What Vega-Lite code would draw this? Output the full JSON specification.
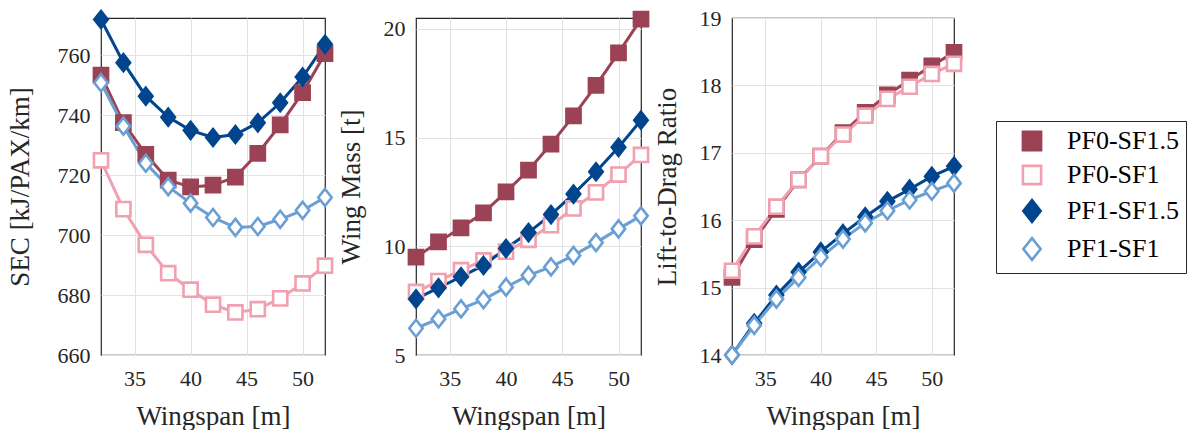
{
  "$schema": "https://vega.github.io/schema/vega-lite/v6.json",
  "padding": {"left": 5, "top": 5, "right": 0, "bottom": 0},
  "background": "white",
  "bounds": "flush",
  "spacing": 91,
  "datasets": {
    "d": [
      {"span": 32, "series": "PF0-SF1.5", "sec": 753.4, "mass": 9.5, "ld": 15.15},
      {"span": 34, "series": "PF0-SF1.5", "sec": 737.6, "mass": 10.2, "ld": 15.71},
      {"span": 36, "series": "PF0-SF1.5", "sec": 727.0, "mass": 10.85, "ld": 16.16},
      {"span": 38, "series": "PF0-SF1.5", "sec": 718.4, "mass": 11.54, "ld": 16.6},
      {"span": 40, "series": "PF0-SF1.5", "sec": 716.1, "mass": 12.5, "ld": 16.95},
      {"span": 42, "series": "PF0-SF1.5", "sec": 716.7, "mass": 13.5, "ld": 17.3},
      {"span": 44, "series": "PF0-SF1.5", "sec": 719.4, "mass": 14.7, "ld": 17.6},
      {"span": 46, "series": "PF0-SF1.5", "sec": 727.3, "mass": 16.0, "ld": 17.86},
      {"span": 48, "series": "PF0-SF1.5", "sec": 736.8, "mass": 17.4, "ld": 18.08},
      {"span": 50, "series": "PF0-SF1.5", "sec": 747.6, "mass": 18.9, "ld": 18.29},
      {"span": 52, "series": "PF0-SF1.5", "sec": 760.6, "mass": 20.45, "ld": 18.49},
      {"span": 32, "series": "PF0-SF1", "sec": 725.0, "mass": 7.9, "ld": 15.25},
      {"span": 34, "series": "PF0-SF1", "sec": 708.7, "mass": 8.4, "ld": 15.76},
      {"span": 36, "series": "PF0-SF1", "sec": 696.8, "mass": 8.9, "ld": 16.2},
      {"span": 38, "series": "PF0-SF1", "sec": 687.3, "mass": 9.35, "ld": 16.6},
      {"span": 40, "series": "PF0-SF1", "sec": 681.8, "mass": 9.75, "ld": 16.95},
      {"span": 42, "series": "PF0-SF1", "sec": 676.8, "mass": 10.3, "ld": 17.27},
      {"span": 44, "series": "PF0-SF1", "sec": 674.2, "mass": 10.97, "ld": 17.55},
      {"span": 46, "series": "PF0-SF1", "sec": 675.3, "mass": 11.74, "ld": 17.8},
      {"span": 48, "series": "PF0-SF1", "sec": 678.9, "mass": 12.48, "ld": 17.98},
      {"span": 50, "series": "PF0-SF1", "sec": 683.9, "mass": 13.3, "ld": 18.17},
      {"span": 52, "series": "PF0-SF1", "sec": 689.8, "mass": 14.2, "ld": 18.32},
      {"span": 32, "series": "PF1-SF1.5", "sec": 772.0, "mass": 7.58, "ld": 14.0},
      {"span": 34, "series": "PF1-SF1.5", "sec": 757.6, "mass": 8.09, "ld": 14.47},
      {"span": 36, "series": "PF1-SF1.5", "sec": 746.4, "mass": 8.6, "ld": 14.89},
      {"span": 38, "series": "PF1-SF1.5", "sec": 739.4, "mass": 9.12, "ld": 15.23},
      {"span": 40, "series": "PF1-SF1.5", "sec": 735.0, "mass": 9.9, "ld": 15.53},
      {"span": 42, "series": "PF1-SF1.5", "sec": 732.6, "mass": 10.63, "ld": 15.8},
      {"span": 44, "series": "PF1-SF1.5", "sec": 733.6, "mass": 11.46, "ld": 16.05},
      {"span": 46, "series": "PF1-SF1.5", "sec": 737.5, "mass": 12.4, "ld": 16.28},
      {"span": 48, "series": "PF1-SF1.5", "sec": 744.2, "mass": 13.43, "ld": 16.46},
      {"span": 50, "series": "PF1-SF1.5", "sec": 752.8, "mass": 14.55, "ld": 16.65},
      {"span": 52, "series": "PF1-SF1.5", "sec": 763.7, "mass": 15.8, "ld": 16.8},
      {"span": 32, "series": "PF1-SF1", "sec": 750.9, "mass": 6.23, "ld": 14.0},
      {"span": 34, "series": "PF1-SF1", "sec": 736.4, "mass": 6.66, "ld": 14.44},
      {"span": 36, "series": "PF1-SF1", "sec": 724.0, "mass": 7.12, "ld": 14.83},
      {"span": 38, "series": "PF1-SF1", "sec": 716.2, "mass": 7.55, "ld": 15.15},
      {"span": 40, "series": "PF1-SF1", "sec": 710.7, "mass": 8.12, "ld": 15.45},
      {"span": 42, "series": "PF1-SF1", "sec": 705.9, "mass": 8.66, "ld": 15.72},
      {"span": 44, "series": "PF1-SF1", "sec": 702.6, "mass": 9.05, "ld": 15.96},
      {"span": 46, "series": "PF1-SF1", "sec": 702.9, "mass": 9.58, "ld": 16.14},
      {"span": 48, "series": "PF1-SF1", "sec": 705.3, "mass": 10.17, "ld": 16.3},
      {"span": 50, "series": "PF1-SF1", "sec": 708.3, "mass": 10.8, "ld": 16.43},
      {"span": 52, "series": "PF1-SF1", "sec": 712.6, "mass": 11.4, "ld": 16.55}
    ]
  },
  "data": {"name": "d"},
  "resolve": {"scale": {"stroke": "shared", "fill": "shared", "shape": "shared"}, "legend": {"stroke": "shared"}},
  "hconcat": [
    {
      "width": 224, "height": 337,
      "encoding": {
        "x": {"field": "span", "type": "quantitative", "title": "Wingspan [m]", "scale": {"domain": [32, 52], "nice": false, "zero": false}, "axis": {"values": [35, 40, 45, 50], "labelFont": "Liberation Serif", "titleFont": "Liberation Serif"}},
        "y": {"field": "sec", "type": "quantitative", "title": "SEC [kJ/PAX/km]", "scale": {"domain": [660, 772.5], "nice": false, "zero": false}, "axis": {"values": [660, 680, 700, 720, 740, 760], "titlePadding": 23, "labelFont": "Liberation Serif", "titleFont": "Liberation Serif"}}
      },
      "layer": [
        {"mark": {"type": "line", "strokeWidth": 3}, "encoding": {
          "stroke": {"field": "series", "type": "nominal", "scale": {"domain": ["PF0-SF1.5", "PF0-SF1", "PF1-SF1.5", "PF1-SF1"], "range": ["#9B4254", "#F0A0AE", "#00458E", "#6A9FD3"]}, "title": null,
            "legend": {"labelFont": "Liberation Serif"}}
        }},
        {"mark": {"type": "point", "filled": false, "size": 200, "strokeWidth": 2.6, "opacity": 1}, "encoding": {
          "stroke": {"field": "series", "type": "nominal", "title": null},
          "fill": {"field": "series", "type": "nominal", "scale": {"domain": ["PF0-SF1.5", "PF0-SF1", "PF1-SF1.5", "PF1-SF1"], "range": ["#9B4254", "#ffffff", "#00458E", "#ffffff"]}, "legend": null},
          "shape": {"field": "series", "type": "nominal", "scale": {"domain": ["PF0-SF1.5", "PF0-SF1", "PF1-SF1.5", "PF1-SF1"], "range": ["square", "square", "M0,-1.2L0.95,0L0,1.2L-0.95,0Z", "M0,-1.2L0.95,0L0,1.2L-0.95,0Z"]}, "legend": null}
        }}
      ]
    },
    {
      "width": 225, "height": 337,
      "encoding": {
        "x": {"field": "span", "type": "quantitative", "title": "Wingspan [m]", "scale": {"domain": [32, 52], "nice": false, "zero": false}, "axis": {"values": [35, 40, 45, 50], "labelFont": "Liberation Serif", "titleFont": "Liberation Serif"}},
        "y": {"field": "mass", "type": "quantitative", "title": "Wing Mass [t]", "scale": {"domain": [5, 20.5], "nice": false, "zero": false}, "axis": {"values": [5, 10, 15, 20], "titlePadding": 18, "labelFont": "Liberation Serif", "titleFont": "Liberation Serif"}}
      },
      "layer": [
        {"mark": {"type": "line", "strokeWidth": 3}, "encoding": {
          "stroke": {"field": "series", "type": "nominal", "title": null}
        }},
        {"mark": {"type": "point", "filled": false, "size": 200, "strokeWidth": 2.6, "opacity": 1}, "encoding": {
          "stroke": {"field": "series", "type": "nominal", "title": null},
          "fill": {"field": "series", "type": "nominal", "legend": null},
          "shape": {"field": "series", "type": "nominal", "legend": null}
        }}
      ]
    },
    {
      "width": 222, "height": 337,
      "encoding": {
        "x": {"field": "span", "type": "quantitative", "title": "Wingspan [m]", "scale": {"domain": [32, 52], "nice": false, "zero": false}, "axis": {"values": [35, 40, 45, 50], "labelFont": "Liberation Serif", "titleFont": "Liberation Serif"}},
        "y": {"field": "ld", "type": "quantitative", "title": "Lift-to-Drag Ratio", "scale": {"domain": [14, 19], "nice": false, "zero": false}, "axis": {"values": [14, 15, 16, 17, 18, 19], "titlePadding": 18, "labelFont": "Liberation Serif", "titleFont": "Liberation Serif"}}
      },
      "layer": [
        {"mark": {"type": "line", "strokeWidth": 3}, "encoding": {
          "stroke": {"field": "series", "type": "nominal", "title": null}
        }},
        {"mark": {"type": "point", "filled": false, "size": 200, "strokeWidth": 2.6, "opacity": 1}, "encoding": {
          "stroke": {"field": "series", "type": "nominal", "title": null},
          "fill": {"field": "series", "type": "nominal", "legend": null},
          "shape": {"field": "series", "type": "nominal", "legend": null}
        }}
      ]
    }
  ],
  "config": {
    "font": "Liberation Serif",
    "view": {"stroke": "#262626", "strokeWidth": 1.2},
    "axis": {
      "labelFont": "Liberation Serif", "labelFontSize": 22, "labelColor": "#262626",
      "titleFont": "Liberation Serif", "titleFontSize": 27, "titleFontWeight": "normal", "titleColor": "#262626",
      "domain": false, "ticks": false, "grid": true, "gridColor": "#e2e2e2", "gridWidth": 1
    },
    "axisX": {"labelPadding": 13, "titlePadding": 14},
    "axisY": {"labelPadding": 11},
    "legend": {
      "orient": "none", "legendX": 895, "legendY": 103,
      "labelFont": "Liberation Serif", "labelFontSize": 26, "labelColor": "#000000", "labelOffset": 22,
      "symbolSize": 330, "symbolStrokeWidth": 2.6, "symbolOffset": 16,
      "strokeColor": "#262626", "fillColor": "#ffffff", "padding": 7, "rowPadding": 4
    }
  }
}
